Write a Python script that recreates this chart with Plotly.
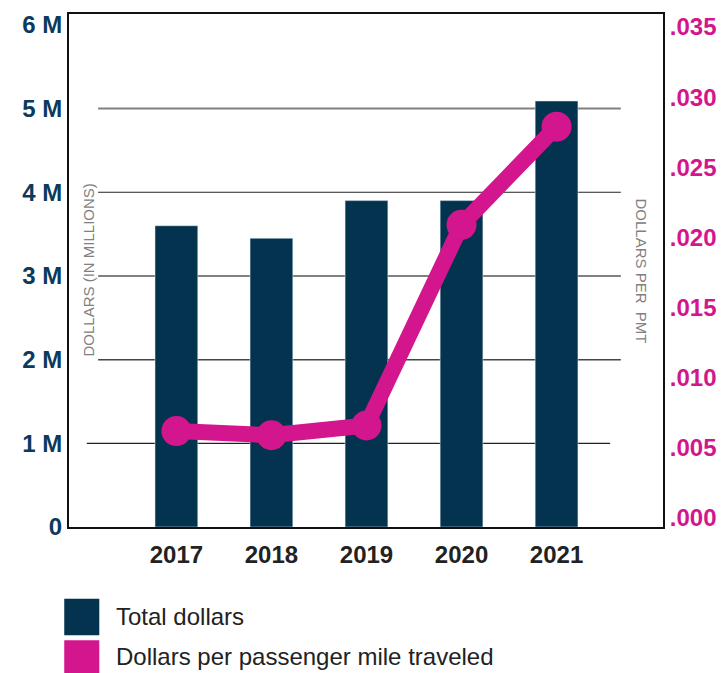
import plotly.graph_objects as go

years = ["2017", "2018", "2019", "2020", "2021"]
total_dollars_m = [3.60, 3.45, 3.90, 3.90, 5.09]
dollars_per_pmt = [0.0062, 0.0059, 0.0066, 0.0209, 0.0279]
left_ticks = [0, 1, 2, 3, 4, 5, 6]
left_labels = ["0", "1 M", "2 M", "3 M", "4 M", "5 M", "6 M"]
right_ticks = [0.0, 0.005, 0.010, 0.015, 0.020, 0.025, 0.030, 0.035]
right_labels = [".000", ".005", ".010", ".015", ".020", ".025", ".030", ".035"]

NAVY = "#03334F"
MAGENTA = "#D3168D"
FONT = "Liberation Sans, Arial, sans-serif"

fig = go.Figure()
fig.add_trace(go.Bar(
    x=list(range(len(years))), y=total_dollars_m, marker_color=NAVY,
    width=0.45, name="Total dollars", showlegend=False,
))
fig.add_trace(go.Scatter(
    x=list(range(len(years))), y=dollars_per_pmt, yaxis="y2", mode="lines+markers",
    line=dict(color=MAGENTA, width=16), marker=dict(color=MAGENTA, size=30),
    name="Dollars per passenger mile traveled", showlegend=False,
))

# partial gridlines
grid_specs = [(5, 0.049, 0.929, "#808080", 2), (4, 0.049, 0.929, "#222222", 1.2),
              (3, 0.049, 0.929, "#808080", 2), (2, 0.049, 0.929, "#444444", 1.5),
              (1, 0.030, 0.911, "#222222", 1.2)]
shapes = []
for val, x0, x1, col, w in grid_specs:
    shapes.append(dict(type="line", xref="paper", yref="y", x0=x0, x1=x1, y0=val, y1=val,
                       line=dict(color=col, width=w), layer="below"))

# legend swatches
shapes.append(dict(type="rect", xref="paper", yref="paper", x0=-0.008, x1=0.051,
                   y0=-0.211, y1=-0.140, fillcolor=NAVY, line=dict(width=0)))
shapes.append(dict(type="rect", xref="paper", yref="paper", x0=-0.008, x1=0.051,
                   y0=-0.285, y1=-0.221, fillcolor=MAGENTA, line=dict(width=0)))

annotations = [
    dict(text="DOLLARS (IN MILLIONS)", xref="paper", yref="paper", x=0.032, y=0.50,
         xanchor="center", yanchor="middle",
         textangle=-90, showarrow=False, font=dict(size=15, color="#808080", family=FONT)),
    dict(text="DOLLARS PER  PMT", xref="paper", yref="paper", x=0.963, y=0.50,
         xanchor="center", yanchor="middle",
         textangle=90, showarrow=False, font=dict(size=15, color="#808080", family=FONT)),
    dict(text="Total dollars", xref="paper", yref="paper", x=0.076, y=-0.175,
         xanchor="left", yanchor="middle", showarrow=False,
         font=dict(size=24, color="#222222", family=FONT)),
    dict(text="Dollars per passenger mile traveled", xref="paper", yref="paper", x=0.076, y=-0.253,
         xanchor="left", yanchor="middle", showarrow=False,
         font=dict(size=24, color="#222222", family=FONT)),
]

fig.update_layout(
    width=722, height=673,
    margin=dict(l=69, r=59, t=14, b=146),
    paper_bgcolor="white", plot_bgcolor="white",
    bargap=0.5,
    shapes=shapes, annotations=annotations,
    xaxis=dict(range=[-1.13, 5.12], tickvals=list(range(len(years))), ticktext=years,
               showgrid=False, zeroline=False, showline=True, linecolor="#111111",
               linewidth=2, mirror=True, ticks="", automargin=False, ticklabelstandoff=5,
               tickfont=dict(size=24, color="#222222", family=FONT, weight="bold")),
    yaxis=dict(range=[0, 6.13], tickvals=left_ticks, ticktext=left_labels,
               showgrid=False, zeroline=False, showline=True, linecolor="#111111",
               linewidth=2, ticks="", automargin=False,
               tickfont=dict(size=24, color="#0B3A5C", family=FONT, weight="bold")),
    yaxis2=dict(range=[-0.00064, 0.03593], tickvals=right_ticks, ticktext=right_labels,
                overlaying="y", side="right", showgrid=False, zeroline=False,
                showline=True, linecolor="#111111", linewidth=2, ticks="", automargin=False,
                tickfont=dict(size=24, color=MAGENTA, family=FONT, weight="bold")),
)

fig.write_html("out.html", config={"displayModeBar": False},
               post_script="document.body.style.margin='0';document.body.style.overflow='hidden';")
